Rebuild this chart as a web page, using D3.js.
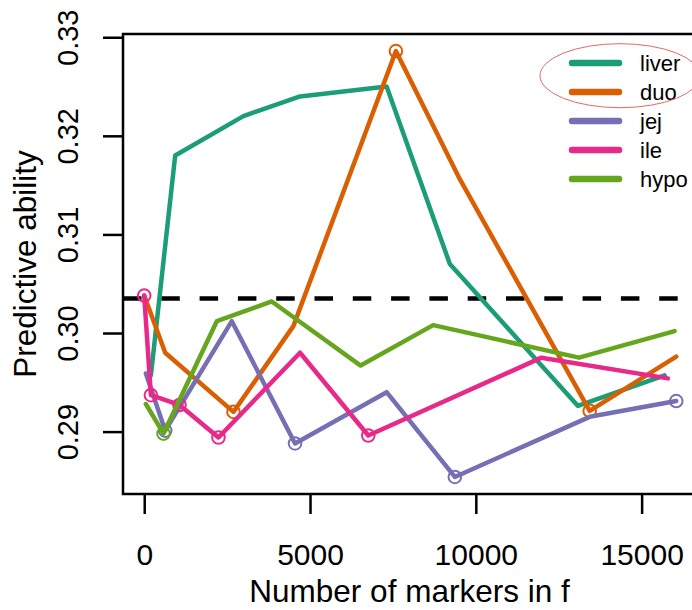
<!DOCTYPE html>
<html>
<head>
<meta charset="utf-8">
<script src="https://cdn.jsdelivr.net/npm/d3@7"></script>
<style>
    body { margin: 0; background: #fff; }
    text { font-family: "Liberation Sans", Arial, sans-serif; fill: #000; }
</style>
</head>
<body>
<div id="chart"></div>
<script>
/*global d3 */

var tissues = ['liver', 'duo', 'jej', 'ile', 'hypo'];
var colours = ['#1B9E77', '#D95F02', '#7570B3', '#E7298A', '#66A61E'];

var liverX = [200, 934, 2991, 4699, 7310, 9217, 13081, 15693];
var liverY = [0.2957, 0.3180, 0.3220, 0.3240, 0.3250, 0.3070, 0.2926, 0.2957];
var liverCircled = [];

var duoX = [0, 633, 2691, 4498, 7590, 9518, 13434, 16044];
var duoY = [0.3038, 0.2980, 0.2920, 0.3007, 0.3286, 0.3156, 0.2921, 0.2976];
var duoCircled = [2, 4, 6];

var jejX = [50, 633, 2641, 4548, 7310, 9367, 13434, 16044];
var jejY = [0.2959, 0.2901, 0.3012, 0.2888, 0.2940, 0.2854, 0.2915, 0.2931];
var jejCircled = [1, 3, 5, 7];

var ileX = [0, 201, 1064, 2239, 4699, 6757, 11978, 15792];
var ileY = [0.3038, 0.2937, 0.2927, 0.2894, 0.2980, 0.2896, 0.2975, 0.2954];
var ileCircled = [0, 1, 2, 3, 5];

var hypoX = [50, 582, 2189, 3846, 6526, 8714, 13112, 15994];
var hypoY = [0.2928, 0.2898, 0.3012, 0.3032, 0.2967, 0.3008, 0.2975, 0.3002];
var hypoCircled = [1];

var baseline = 0.3035;

var xTicks = [0, 5000, 10000, 15000];
var yTicks = [0.29, 0.30, 0.31, 0.32, 0.33];

var width = 692;
var height = 610;
var plot = { left: 123, right: 696, top: 34, bottom: 494 };

function pairs(xs, ys) {
    return xs.map(function (x, i) { return { x: x, y: ys[i] }; });
}

var series = [
    { name: 'liver', pts: pairs(liverX, liverY), circled: liverCircled },
    { name: 'duo', pts: pairs(duoX, duoY), circled: duoCircled },
    { name: 'jej', pts: pairs(jejX, jejY), circled: jejCircled },
    { name: 'ile', pts: pairs(ileX, ileY), circled: ileCircled },
    { name: 'hypo', pts: pairs(hypoX, hypoY), circled: hypoCircled }
];

// R style axis range: data extent padded by 4% on each side
function padded(ext) {
    var d = (ext[1] - ext[0]) * 0.04;
    return [ext[0] - d, ext[1] + d];
}
var allX = [].concat(liverX, duoX, jejX, ileX, hypoX);
var allY = [].concat(liverY, duoY, jejY, ileY, hypoY);

var x = d3.scaleLinear().domain(padded([0, 16000])).range([plot.left, plot.right]);
var y = d3.scaleLinear().domain(padded(d3.extent(allY))).range([plot.bottom, plot.top]);
var colour = d3.scaleOrdinal().domain(tissues).range(colours);

var svg = d3.select('#chart').append('svg')
    .attr('width', width)
    .attr('height', height);

var line = d3.line()
    .x(function (d) { return x(d.x); })
    .y(function (d) { return y(d.y); });

// reference level
svg.append('line')
    .attr('x1', plot.left)
    .attr('x2', plot.right)
    .attr('y1', y(baseline))
    .attr('y2', y(baseline))
    .attr('stroke', '#000')
    .attr('stroke-width', 4.7)
    .attr('stroke-dasharray', '18.5,19.8');

var $series = svg.selectAll('g.series')
    .data(series)
    .enter().append('g')
    .classed('series', true);

$series.append('path')
    .attr('d', function (d) { return line(d.pts); })
    .attr('fill', 'none')
    .attr('stroke', function (d) { return colour(d.name); })
    .attr('stroke-width', 4.5)
    .attr('stroke-linecap', 'round')
    .attr('stroke-linejoin', 'round');

$series.selectAll('circle')
    .data(function (d) {
        return d.circled.map(function (i) { return { p: d.pts[i], name: d.name }; });
    })
    .enter().append('circle')
    .attr('cx', function (d) { return x(d.p.x); })
    .attr('cy', function (d) { return y(d.p.y); })
    .attr('r', 6.3)
    .attr('fill', 'none')
    .attr('stroke', function (d) { return colour(d.name); })
    .attr('stroke-width', 2);

// box
svg.append('rect')
    .attr('x', plot.left)
    .attr('y', plot.top)
    .attr('width', plot.right - plot.left)
    .attr('height', plot.bottom - plot.top)
    .attr('fill', 'none')
    .attr('stroke', '#000')
    .attr('stroke-width', 2.5);

// axes
var xAxis = svg.append('g')
    .attr('transform', 'translate(0,' + plot.bottom + ')')
    .call(d3.axisBottom(x).tickValues(xTicks).tickSize(20).tickSizeOuter(0).tickFormat(d3.format('d')));
xAxis.select('.domain').remove();
xAxis.selectAll('.tick line').attr('stroke-width', 2.5);
xAxis.selectAll('text')
    .attr('y', 71)
    .attr('dy', 0)
    .style('font-size', '30px')
    .style('font-family', '"Liberation Sans", Arial, sans-serif');

var yAxis = svg.append('g')
    .attr('transform', 'translate(' + plot.left + ',0)')
    .call(d3.axisLeft(y).tickValues(yTicks).tickSize(20).tickSizeOuter(0).tickFormat(d3.format('.2f')));
yAxis.select('.domain').remove();
yAxis.selectAll('.tick line').attr('stroke-width', 2.5);
yAxis.selectAll('text')
    .attr('x', 0)
    .attr('dy', 0)
    .attr('transform', 'translate(-45,0) rotate(-90)')
    .style('text-anchor', 'middle')
    .style('font-size', '29px')
    .style('font-family', '"Liberation Sans", Arial, sans-serif');

svg.append('text')
    .attr('x', (plot.left + plot.right) / 2)
    .attr('y', 602)
    .style('text-anchor', 'middle')
    .style('font-size', '31.5px')
    .text('Number of markers in f');

svg.append('text')
    .attr('transform', 'translate(36,' + ((plot.top + plot.bottom) / 2) + ') rotate(-90)')
    .style('text-anchor', 'middle')
    .style('font-size', '31.5px')
    .text('Predictive ability');

// legend
var $legend = svg.append('g').attr('transform', 'translate(572,63)');
var $item = $legend.selectAll('g')
    .data(tissues)
    .enter().append('g')
    .attr('transform', function (d, i) { return 'translate(0,' + (i * 29) + ')'; });
$item.append('line')
    .attr('x1', 0)
    .attr('x2', 47)
    .attr('stroke', function (d) { return colour(d); })
    .attr('stroke-width', 6.5)
    .attr('stroke-linecap', 'round');
$item.append('text')
    .attr('x', 68)
    .attr('y', 8)
    .style('font-size', '22px')
    .text(function (d) { return d; });

// hand drawn highlight around the first two entries
svg.append('ellipse')
    .attr('cx', 620)
    .attr('cy', 75.7)
    .attr('rx', 80)
    .attr('ry', 32)
    .attr('fill', 'none')
    .attr('stroke', '#e06a6a')
    .attr('stroke-width', 1);
</script>
</body>
</html>
